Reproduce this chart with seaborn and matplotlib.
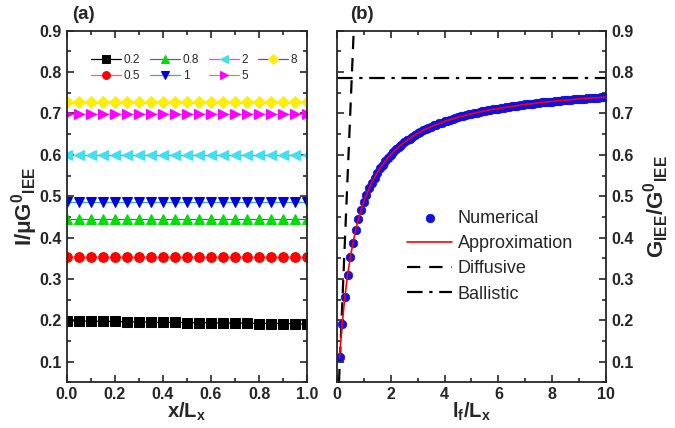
import numpy as np
import pandas as pd
import seaborn as sns
import matplotlib
matplotlib.use("Agg")
from matplotlib import pyplot as plt
from matplotlib.ticker import MultipleLocator

# panel (a): current along x for several l_f/L_x
x_pos = np.round(np.arange(0, 1.0001, 0.05), 2)
series_labels = ["0.2", "0.5", "0.8", "1", "2", "5", "8"]
curr_02 = [0.199, 0.198, 0.198, 0.197, 0.197, 0.196, 0.196, 0.195, 0.195, 0.195, 0.194,
           0.194, 0.194, 0.193, 0.193, 0.193, 0.192, 0.192, 0.192, 0.191, 0.191]
curr_05 = [0.353] * 21
curr_08 = [0.445] * 21
curr_1 = [0.487] * 21
curr_2 = [0.600] * 21
curr_5 = [0.699] * 21
curr_8 = [0.729] * 21
line_colors = ["black", "#ff6060", "#5050ff", "#30b0b0", "#ff40ff", "#a0a040", "#5050c0"]
marker_colors = ["black", "red", "#00e000", "#0000e0", "#40e0f0", "#ff00ff", "#ffee00"]
marker_styles = ["s", "o", "^", "v", "<", ">", "D"]

# panel (b): G_IEE vs l_f/L_x
lf = np.round(np.arange(0.1, 10.0001, 0.1), 1)
g_num = [0.110, 0.192, 0.257, 0.309, 0.352, 0.387, 0.418, 0.444, 0.466, 0.486,
         0.503, 0.519, 0.533, 0.545, 0.557, 0.567, 0.576, 0.585, 0.593, 0.600,
         0.607, 0.613, 0.619, 0.625, 0.630, 0.635, 0.639, 0.644, 0.648, 0.652,
         0.655, 0.659, 0.662, 0.665, 0.668, 0.671, 0.673, 0.676, 0.678, 0.681,
         0.683, 0.685, 0.687, 0.689, 0.691, 0.693, 0.694, 0.696, 0.698, 0.699,
         0.701, 0.702, 0.704, 0.705, 0.706, 0.708, 0.709, 0.710, 0.711, 0.712,
         0.713, 0.714, 0.715, 0.716, 0.717, 0.718, 0.719, 0.720, 0.721, 0.722,
         0.723, 0.723, 0.724, 0.725, 0.726, 0.727, 0.727, 0.728, 0.729, 0.729,
         0.730, 0.731, 0.731, 0.732, 0.732, 0.733, 0.733, 0.734, 0.735, 0.735,
         0.736, 0.736, 0.737, 0.737, 0.738, 0.738, 0.738, 0.739, 0.739, 0.740]
g_approx = g_num
diff_x = [0.08, 0.64]
diff_y = [0.05, 0.92]
ball_x = [0.0, 10.0]
ball_y = [0.785, 0.785]

sns.set_style("ticks")
plt.rcParams["font.family"] = ["Liberation Sans", "DejaVu Sans"]
plt.rcParams["mathtext.fontset"] = "custom"
plt.rcParams["mathtext.rm"] = "Liberation Sans:bold"
plt.rcParams["mathtext.it"] = "Liberation Sans:bold"
plt.rcParams["mathtext.bf"] = "Liberation Sans:bold"
plt.rcParams["axes.linewidth"] = 1.3

fig = plt.figure(figsize=(6.75, 4.28), dpi=100)
ax1 = fig.add_axes([0.099, 0.107, 0.356, 0.821])
ax2 = fig.add_axes([0.499, 0.107, 0.399, 0.821])

all_curr = [curr_02, curr_05, curr_08, curr_1, curr_2, curr_5, curr_8]
for lab, vals, lc, mc, ms in zip(series_labels, all_curr, line_colors, marker_colors, marker_styles):
    df = pd.DataFrame({"x": x_pos, "y": vals})
    sns.lineplot(data=df, x="x", y="y", ax=ax1, color=lc, lw=0.9, marker=ms,
                 markersize=7 if ms != "D" else 6.5, markerfacecolor=mc, markeredgecolor=mc,
                 label=lab, clip_on=True)

ax1.set_xlim(0, 1.0)
ax1.set_ylim(0.05, 0.9)
ax1.xaxis.set_minor_locator(MultipleLocator(0.1))
ax1.yaxis.set_minor_locator(MultipleLocator(0.05))
ax1.set_xticks([0, 0.2, 0.4, 0.6, 0.8, 1.0])
ax1.set_xticklabels(["0.0", "0.2", "0.4", "0.6", "0.8", "1.0"])
ax1.set_yticks([0.1, 0.2, 0.3, 0.4, 0.5, 0.6, 0.7, 0.8, 0.9])
ax1.set_yticklabels(["0.1", "0.2", "0.3", "0.4", "0.5", "0.6", "0.7", "0.8", "0.9"])
ax1.set_xlabel(r"x/L$_x$", fontsize=14.5, fontweight="bold", labelpad=-1)
ax1.set_ylabel(r"I/μG$^0$$_{IEE}$", fontsize=16, fontweight="bold", labelpad=0)
ax1.legend(loc="upper left", bbox_to_anchor=(0.08, 0.948), ncol=4, frameon=False,
           fontsize=8.5, handlelength=2.6, handletextpad=0.2, columnspacing=0.8,
           labelspacing=0.35, borderaxespad=0, markerscale=0.8)

sns.scatterplot(x=lf, y=g_num, ax=ax2, color="#1010e0", edgecolor="#1010e0", s=38,
                label="Numerical", zorder=3)
sns.lineplot(x=lf, y=g_approx, ax=ax2, color="red", lw=1.2, label="Approximation", zorder=4)
ax2.plot(diff_x, diff_y, color="black", lw=1.6, ls=(0, (6, 4)), label="Diffusive")
ax2.plot(ball_x, ball_y, color="black", lw=1.6, ls=(0, (7, 3, 1.5, 3)), label="Ballistic")
ax2.set_xlim(0, 10)
ax2.set_ylim(0.05, 0.9)
ax2.xaxis.set_major_locator(MultipleLocator(2))
ax2.xaxis.set_minor_locator(MultipleLocator(1))
ax2.set_yticks([0.1, 0.2, 0.3, 0.4, 0.5, 0.6, 0.7, 0.8, 0.9])
ax2.set_yticklabels(["0.1", "0.2", "0.3", "0.4", "0.5", "0.6", "0.7", "0.8", "0.9"])
ax2.yaxis.set_minor_locator(MultipleLocator(0.05))
ax2.yaxis.tick_right()
ax2.yaxis.set_label_position("right")
ax2.set_xlabel(r"l$_f$/L$_x$", fontsize=14.5, fontweight="bold", labelpad=-1)
ax2.set_ylabel(r"G$_{IEE}$/G$^0$$_{IEE}$", fontsize=16, fontweight="bold", labelpad=6)
ax2.legend(loc="upper left", bbox_to_anchor=(0.235, 0.51), frameon=False, fontsize=13,
           handlelength=2.5, handletextpad=0.3, labelspacing=0.45, borderaxespad=0)

for ax in (ax1, ax2):
    ax.tick_params(which="both", direction="in", top=True, bottom=True, left=True, right=True,
                   width=1.2, labelsize=11.5)
    ax.tick_params(which="major", length=5)
    ax.tick_params(which="minor", length=3)
    for t in ax.get_xticklabels() + ax.get_yticklabels():
        t.set_fontweight("bold")
ax2.tick_params(axis="y", labelleft=False, labelright=True)

fig.text(0.107, 0.955, "(a)", fontsize=13.5, fontweight="bold")
fig.text(0.519, 0.955, "(b)", fontsize=13.5, fontweight="bold")

plt.savefig("out.png", dpi=100)
